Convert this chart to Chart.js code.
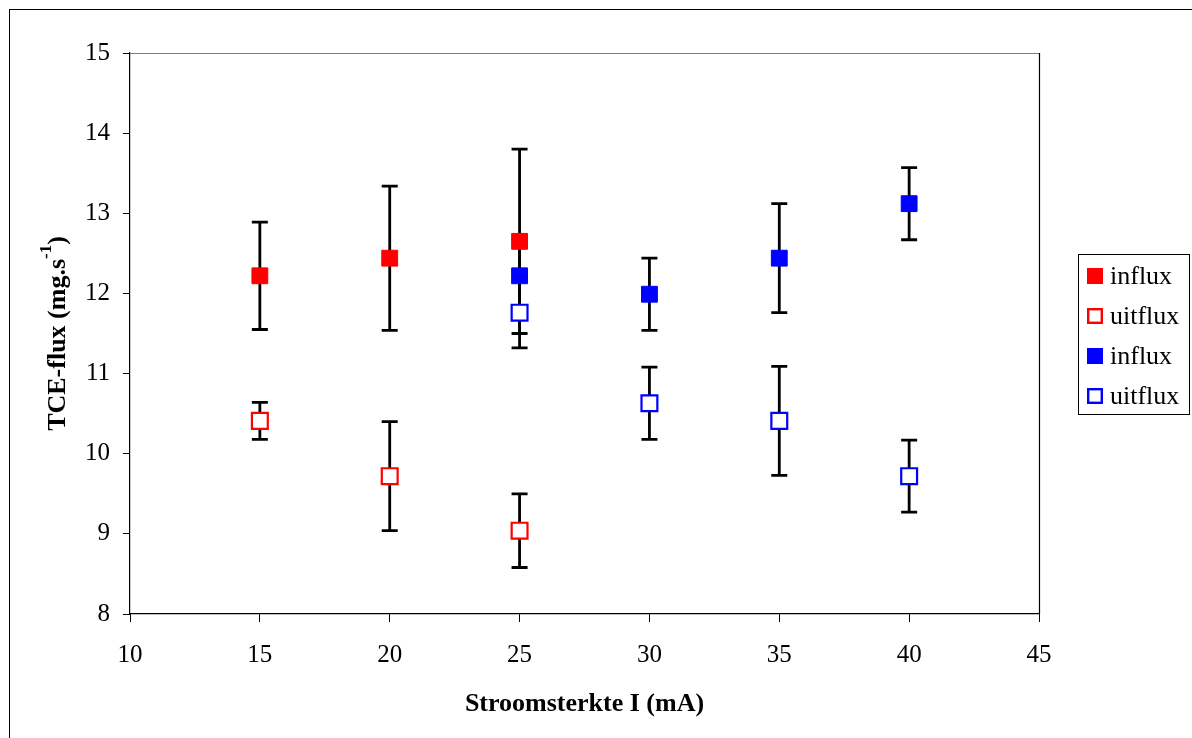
<!DOCTYPE html>
<html>
<head>
<meta charset="utf-8">
<script src="https://cdn.jsdelivr.net/npm/chart.js@4/dist/chart.umd.min.js"></script>
<style>
  html,body{margin:0;padding:0;background:#fff;}
  #wrap{width:1192px;height:738px;position:relative;}
</style>
</head>
<body>
<div id="wrap"><canvas id="c" width="1192" height="738"></canvas></div>
<script>
// data
const xRed = [15, 20, 25];
const redIn = [12.22, 12.44, 12.65];
const redInErr = [0.67, 0.90, 1.15];
const redOut = [10.41, 9.72, 9.04];
const redOutErr = [0.23, 0.68, 0.46];

const xBlue = [25, 30, 35, 40];
const blueIn = [12.22, 11.99, 12.44, 13.12];
const blueInErr = [0.45, 0.45, 0.68, 0.45];
const blueOut = [11.76, 10.63, 10.41, 9.72];
const blueOutErr = [0.44, 0.45, 0.68, 0.45];

const xTicks = [10, 15, 20, 25, 30, 35, 40, 45];
const yTicks = [8, 9, 10, 11, 12, 13, 14, 15];

const SERIF = '"Liberation Serif", "Times New Roman", serif';

function pts(xs, ys, errs){
  return xs.map((x,i)=>({x:x, y:ys[i], err:errs[i]}));
}

function mkSet(label, data, color, filled){
  return {
    label, data,
    showLine:false,
    pointStyle:'rect',
    pointRadius: 11.2,
    pointHoverRadius: 11.2,
    backgroundColor: filled ? color : '#fff',
    borderColor: color,
    borderWidth: filled ? 1 : 2.2,
    filled
  };
}

// error bars, drawn under the markers
const errorBars = {
  id:'errorBars',
  beforeDatasetsDraw(chart){
    const {ctx, scales:{x, y}} = chart;
    ctx.save();
    ctx.strokeStyle = '#000';
    ctx.lineWidth = 2.8;
    chart.data.datasets.forEach(ds=>{
      ds.data.forEach(p=>{
        const px = x.getPixelForValue(p.x);
        const top = y.getPixelForValue(p.y + p.err);
        const bot = y.getPixelForValue(p.y - p.err);
        ctx.beginPath();
        ctx.moveTo(px, top); ctx.lineTo(px, bot);
        ctx.moveTo(px-8, top); ctx.lineTo(px+8, top);
        ctx.moveTo(px-8, bot); ctx.lineTo(px+8, bot);
        ctx.stroke();
      });
    });
    ctx.restore();
  }
};

// frame, plot border, y title with superscript, legend box
const decor = {
  id:'decor',
  beforeDraw(chart){
    const {ctx} = chart;
    ctx.save();
    ctx.fillStyle = '#fff';
    ctx.fillRect(0,0,chart.width,chart.height);
    ctx.strokeStyle = '#000';
    ctx.lineWidth = 1;
    ctx.strokeRect(9.5, 9.5, chart.width + 20, chart.height + 20);
    ctx.restore();
  },
  afterDraw(chart){
    const {ctx, chartArea:a} = chart;
    ctx.save();
    // top + right border of plot
    ctx.lineWidth = 1.2;
    ctx.strokeStyle = '#808080';
    ctx.beginPath(); ctx.moveTo(a.left, a.top+0.5); ctx.lineTo(a.right, a.top+0.5); ctx.stroke();
    ctx.strokeStyle = '#000';
    ctx.beginPath(); ctx.moveTo(a.right+0.5, a.top); ctx.lineTo(a.right+0.5, a.bottom); ctx.stroke();

    // y axis title
    const main = 'TCE-flux (mg.s';
    ctx.font = 'bold 26px ' + SERIF;
    const w1 = ctx.measureText(main).width;
    ctx.font = 'bold 17px ' + SERIF;
    const w2 = ctx.measureText('-1').width;
    ctx.font = 'bold 26px ' + SERIF;
    const w3 = ctx.measureText(')').width;
    const total = w1 + w2 + w3;
    ctx.translate(58, (a.top + a.bottom)/2);
    ctx.rotate(-Math.PI/2);
    ctx.fillStyle = '#000';
    ctx.textBaseline = 'middle';
    ctx.textAlign = 'left';
    let sx = -total/2;
    ctx.fillText(main, sx, 0); sx += w1;
    ctx.font = 'bold 17px ' + SERIF;
    ctx.fillText('-1', sx, -11); sx += w2;
    ctx.font = 'bold 26px ' + SERIF;
    ctx.fillText(')', sx, 0);
    ctx.setTransform(1,0,0,1,0,0);

    // legend
    const lx = 1078, ly = 254, lw = 111, lh = 160;
    ctx.strokeStyle = '#000';
    ctx.lineWidth = 1;
    ctx.strokeRect(lx+0.5, ly+0.5, lw, lh);
    ctx.font = '26px ' + SERIF;
    ctx.textBaseline = 'middle';
    chart.data.datasets.forEach((ds,i)=>{
      const cy = ly + 22 + i*40;
      const cx = lx + 17;
      if(ds.filled){
        ctx.fillStyle = ds.borderColor;
        ctx.fillRect(cx-8, cy-8, 16, 16);
      } else {
        ctx.fillStyle = '#fff';
        ctx.fillRect(cx-8, cy-8, 16, 16);
        ctx.strokeStyle = ds.borderColor;
        ctx.lineWidth = 2.4;
        ctx.strokeRect(cx-6.8, cy-6.8, 13.6, 13.6);
      }
      ctx.fillStyle = '#000';
      ctx.fillText(ds.label, lx + 32, cy + 1);
    });
    ctx.restore();
  }
};

new Chart(document.getElementById('c'), {
  type:'scatter',
  data:{
    datasets:[
      mkSet('influx', pts(xRed, redIn, redInErr), '#ff0000', true),
      mkSet('uitflux', pts(xRed, redOut, redOutErr), '#ff0000', false),
      mkSet('influx', pts(xBlue, blueIn, blueInErr), '#0000ff', true),
      mkSet('uitflux', pts(xBlue, blueOut, blueOutErr), '#0000ff', false)
    ]
  },
  options:{
    responsive:false,
    animation:false,
    layout:{padding:{left:0, right:153, top:53, bottom:0}},
    plugins:{legend:{display:false}, tooltip:{enabled:false}},
    scales:{
      x:{
        type:'linear', min:xTicks[0], max:xTicks[xTicks.length-1],
        afterBuildTicks(s){ s.ticks = xTicks.map(v=>({value:v})); },
        afterFit(s){ s.height = 738 - 614; },
        grid:{display:true, drawOnChartArea:false, drawTicks:true, tickLength:8, color:'#000', lineWidth:1},
        border:{display:true, color:'#000', width:1.2},
        ticks:{color:'#000', font:{family:SERIF, size:25}, padding:18, maxRotation:0},
        title:{display:true, text:'Stroomsterkte I (mA)', color:'#000', font:{family:SERIF, size:26, weight:'bold'}, padding:{top:4, bottom:18}}
      },
      y:{
        type:'linear', min:yTicks[0], max:yTicks[yTicks.length-1],
        afterBuildTicks(s){ s.ticks = yTicks.map(v=>({value:v})); },
        afterFit(s){ s.width = 130; },
        grid:{display:true, drawOnChartArea:false, drawTicks:true, tickLength:7, color:'#000', lineWidth:1},
        border:{display:true, color:'#000', width:1.2},
        ticks:{color:'#000', font:{family:SERIF, size:25}, padding:13},
        title:{display:false}
      }
    }
  },
  plugins:[decor, errorBars]
});
</script>
</body>
</html>
